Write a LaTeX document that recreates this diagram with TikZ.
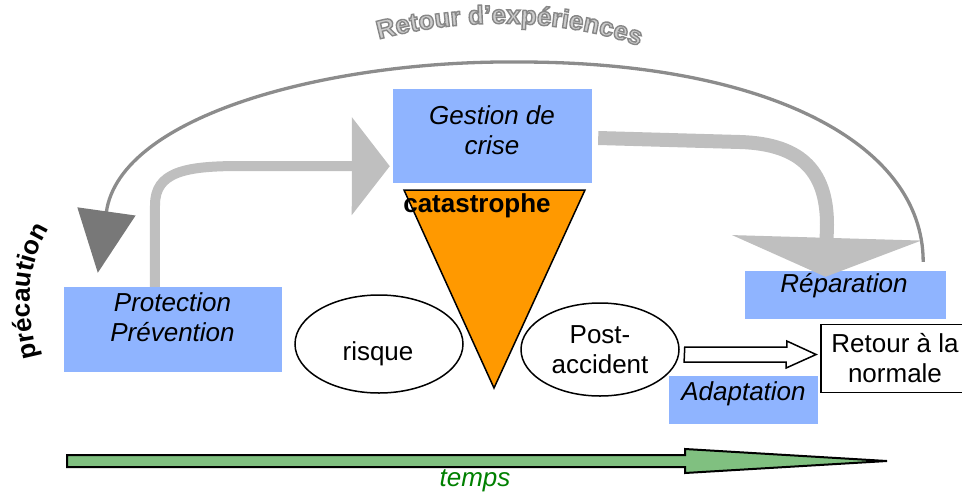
\documentclass[tikz,border=0pt]{standalone}
\usepackage{fontspec}
\setmainfont{Liberation Sans}
\usetikzlibrary{arrows.meta,calc,decorations.text,shapes.geometric}
\definecolor{boxblue}{RGB}{143,180,255}
\definecolor{catorange}{RGB}{255,153,0}
\definecolor{timegreen}{RGB}{128,192,128}
\definecolor{tempsgreen}{RGB}{0,128,0}
\definecolor{flowgray}{RGB}{191,191,191}
\definecolor{arcgray}{RGB}{140,140,140}
\definecolor{tipgray}{RGB}{120,120,120}
\newcommand{\bigfont}{\fontsize{26}{30}\selectfont}
\newcommand{\titlefont}{\fontsize{26}{30}\selectfont\bfseries
  \special{pdf:literal direct 2 Tr 1.4 w 0.53 0.53 0.53 RG 0.80 0.80 0.80 rg}}
\newcommand{\cautionfont}{\fontsize{26}{30}\selectfont\bfseries}
\tikzset{
  bluebox/.style={fill=boxblue, inner sep=0pt},
  bubble/.style={draw, ellipse, line width=1.5pt, inner sep=0pt},
  txt/.style={font=\bigfont\itshape, align=center, inner sep=0pt},
  flow/.style={draw=flowgray, line width=#1},
}
\begin{document}
\begin{tikzpicture}[x=1pt,y=-1pt]
\useasboundingbox (0,0) rectangle (962,491);
\path[decorate, decoration={text along path, text={|\titlefont|Retour d’expériences},
  text align=center}] (376,40) .. controls (460,17) and (560,17) .. (642,47);
\path[decorate, decoration={text along path, text={|\cautionfont|précaution},
  text align=center}] (39,362) .. controls (25,310) and (25,265) .. (52,224);
\node[bluebox, minimum width=199pt, minimum height=94pt] (gestion) at (492.5,136) {};
\node[txt] (gestionlbl) at (492,130.5) {Gestion de\\crise};
\node[bluebox, minimum width=218pt, minimum height=85pt] (prot) at (173,329.5) {};
\node[txt] (protlbl) at (172.5,317.5) {Protection\\Prévention};
\node[bluebox, minimum width=201pt, minimum height=48pt] (rep) at (845.5,295) {};
\node[txt] (replbl) at (844,286) {Réparation};
\node[bluebox, minimum width=149pt, minimum height=48pt] (adapt) at (743.5,400) {};
\node[txt] (adaptlbl) at (743.5,394) {Adaptation};
\node[draw, line width=1.8pt, minimum width=148pt, minimum height=68pt, inner sep=0pt,
  font=\bigfont, align=center] (retour) at (895,358.5) {Retour à la\\normale};
\node[bubble, minimum width=168pt, minimum height=98pt] (risque) at (379,344) {};
\node[font=\bigfont, inner sep=0pt] (risquelbl) at (378,353.5) {risque};
\node[bubble, minimum width=158pt, minimum height=93pt, font=\bigfont, align=center] (post) at (600,349.5) {Post-\\accident};
\draw[fill=catorange, line width=1.5pt] (404,190) -- (585,190) -- (494,388) -- cycle;
\node[font=\bigfont\bfseries, inner sep=0pt] (cata) at (477,206) {catastrophe};
\draw[flow=10pt, -{Triangle[length=38pt,width=96pt]}] ($(prot.north west)+(91,0)$) -- (155,205)
  .. controls (155,172) and (185,166) .. (240,166) -- ($(gestion.south west)+(-3,-17)$);
\draw[flow=14pt, -{Triangle[length=39pt,width=188pt]}] ($(gestion.east)+(6,2)$) -- (740,142)
  .. controls (805,144) and (827,175) .. (827,225) -- ($(rep.north)+(-20,6)$);
\draw[line width=3.3pt, draw=arcgray, -{Triangle[length=62pt,width=58pt,color=tipgray]}]
  ($(rep.north east)+(-23,-9)$) .. controls (923,140) and (760,62) .. (520,62)
  .. controls (330,60) and (120,115) .. ($(prot.north west)+(34,-14)$);
\draw[line width=1.5pt, fill=white] ($(post.east)+(5,-2.5)$) -- ++(102,0) -- ++(0,-6)
  -- ($(retour.west)+(-4,-4)$) -- ++(-30,13.5) -- ++(0,-6) -- ++(-102,0) -- cycle;
\draw[line width=2pt, fill=timegreen] (67,455) -- (685,455) -- (685,449) -- (887,461)
  -- (685,473) -- (685,467) -- (67,467) -- cycle;
\node[font=\bigfont\itshape, text=tempsgreen, inner sep=0pt] (temps) at (475,481) {temps};
\end{tikzpicture}
\end{document}
